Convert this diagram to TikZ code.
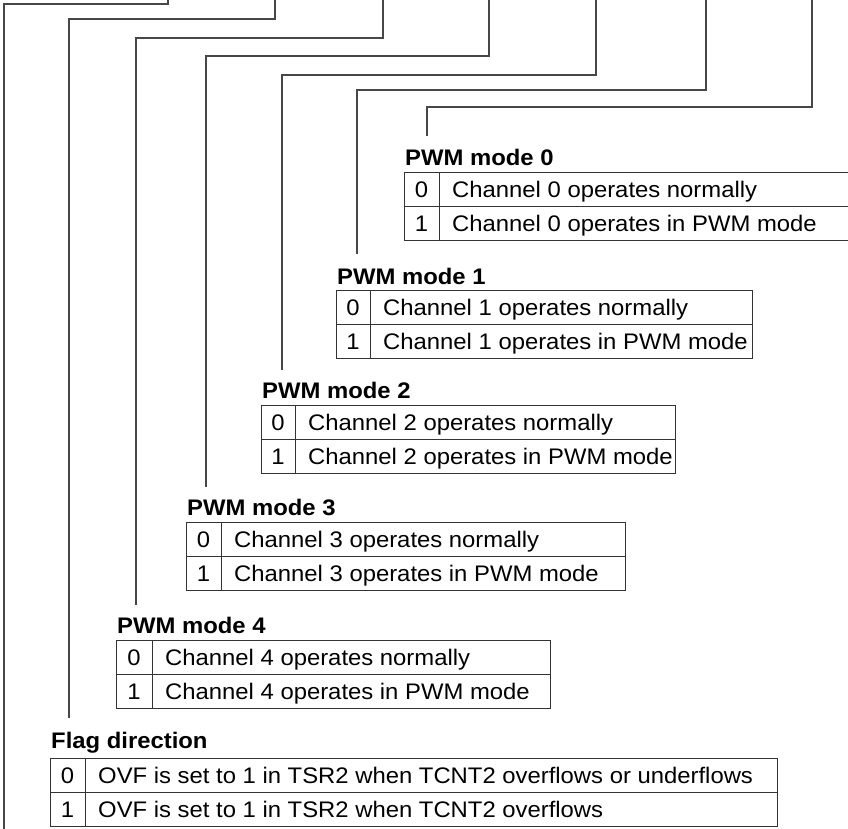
\documentclass[tikz,border=0pt]{standalone}
\usepackage{fontspec}
\setmainfont[FakeStretch=1.06]{Liberation Sans}
\tikzset{
  conn/.style={draw=black!72, line width=1.1pt},
  tbl/.style={draw=black!80, line width=0.9pt},
  ttl/.style={font=\bfseries\fontsize{22.5}{26}\selectfont, anchor=base west, inner sep=0pt},
  cell/.style={font=\fontsize{22.5}{26}\selectfont, anchor=base west, inner sep=0pt},
  num/.style={font=\fontsize{22.5}{26}\selectfont, anchor=base, inner sep=0pt},
}
% #1 name, #2 left, #3 top, #4 divider, #5 right, #6 title, #7 row0, #8 row1, #9 title baseline
\newcommand\regtab[9]{%
  \node[ttl] (#1t) at ({#2+1},#9) {#6};
  \draw[tbl] (#2,#3) rectangle (#5,{#3+68});
  \draw[tbl] (#2,{#3+34}) -- (#5,{#3+34});
  \draw[tbl] (#4,#3) -- (#4,{#3+68});
  \node[num] (#1n0) at ({(#2+#4)/2},{#3+17+8}) {0};
  \node[num] (#1n1) at ({(#2+#4)/2},{#3+51+8}) {1};
  \node[cell] (#1r0) at ({#4+13},{#3+17+8}) {#7};
  \node[cell] (#1r1) at ({#4+13},{#3+51+8}) {#8};
}
\begin{document}
\begin{tikzpicture}[x=1pt,y=-1pt]
\clip (0,0) rectangle (848,828);
\fill[white] (0,0) rectangle (848,828);

% connector coordinates
\coordinate (a1) at (168,-2);  \coordinate (b1) at (4,4);    \coordinate (e1) at (4,830);
\coordinate (a2) at (275,-2);  \coordinate (b2) at (69,19);  \coordinate (e2) at (69,718);
\coordinate (a3) at (383,-2);  \coordinate (b3) at (136,38); \coordinate (e3) at (136,605);
\coordinate (a4) at (489,-2);  \coordinate (b4) at (206,56); \coordinate (e4) at (206,487);
\coordinate (a5) at (596,-2);  \coordinate (b5) at (282,75); \coordinate (e5) at (282,370);
\coordinate (a6) at (706,-2);  \coordinate (b6) at (357,90); \coordinate (e6) at (357,254);
\coordinate (a7) at (812,-2);  \coordinate (b7) at (427,107);\coordinate (e7) at (427,136);

\foreach \i in {1,...,7} {\draw[conn] (a\i) |- (b\i) -- (e\i);}

\regtab{pz}{404}{172}{439}{860}{PWM mode 0}{Channel 0 operates normally}{Channel 0 operates in PWM mode}{165}
\regtab{po}{336}{290}{370}{752}{PWM mode 1}{Channel 1 operates normally}{Channel 1 operates in PWM mode}{284}
\regtab{ptw}{261}{405}{295}{675}{PWM mode 2}{Channel 2 operates normally}{Channel 2 operates in PWM mode}{398}
\regtab{pth}{186}{522}{221}{625}{PWM mode 3}{Channel 3 operates normally}{Channel 3 operates in PWM mode}{515}
\regtab{pf}{116}{640}{152}{550}{PWM mode 4}{Channel 4 operates normally}{Channel 4 operates in PWM mode}{633}
\regtab{fd}{50}{758}{85}{777}{Flag direction}{OVF is set to 1 in TSR2 when TCNT2 overflows or underflows}{OVF is set to 1 in TSR2 when TCNT2 overflows}{748}
\end{tikzpicture}
\end{document}
